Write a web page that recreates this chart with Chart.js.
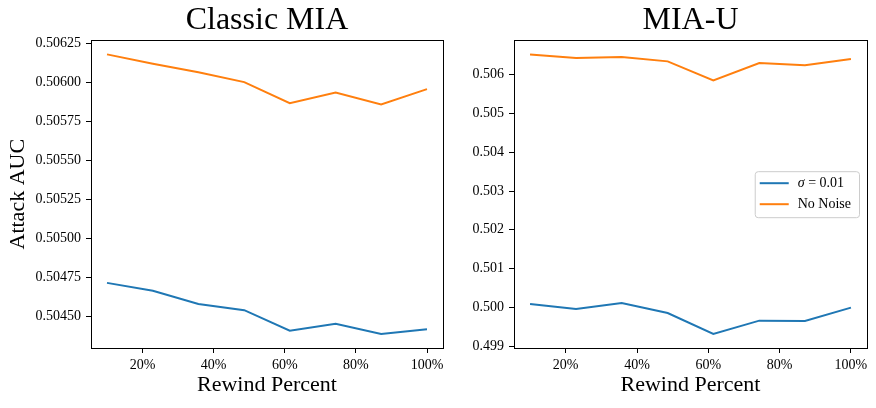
<!DOCTYPE html>
<html>
<head>
<meta charset="utf-8">
<script src="https://cdn.jsdelivr.net/npm/chart.js@4.4.1/dist/chart.umd.min.js"></script>
<style>
  body { margin: 0; background: #fff; }
  #wrap { position: relative; width: 876px; height: 408px; }
  .box { position: absolute; top: 0; height: 408px; }
</style>
</head>
<body>
<div id="wrap">
  <div class="box" style="left:0;width:450px"><canvas id="classicChart" width="450" height="408"></canvas></div>
  <div class="box" style="left:450px;width:426px"><canvas id="miauChart" width="426" height="408"></canvas></div>
</div>
<script>
var rewindPercent = [10, 22.9, 35.7, 48.6, 61.4, 74.3, 87.1, 100];
var seriesLabels = ['σ = 0.01', 'No Noise'];

var classicNoise = [0.504715, 0.504664, 0.504579, 0.50454, 0.504408, 0.504453, 0.504387, 0.504417];
var classicNoNoise = [0.50618, 0.50612, 0.506066, 0.506002, 0.505867, 0.505936, 0.505859, 0.505957];

var miauNoise = [0.500085, 0.499956, 0.500111, 0.499853, 0.499312, 0.499657, 0.499647, 0.499992];
var miauNoNoise = [0.506523, 0.506428, 0.506454, 0.506343, 0.505853, 0.506299, 0.50624, 0.506402];

var xTicks = [20, 40, 60, 80, 100];
var classicTicks = [0.5045, 0.50475, 0.505, 0.50525, 0.5055, 0.50575, 0.506, 0.50625];
var miauTicks = [0.499, 0.5, 0.501, 0.502, 0.503, 0.504, 0.505, 0.506];

var blue = '#1f77b4';
var orange = '#ff7f0e';
var serif = "'Liberation Serif', 'DejaVu Serif', serif";

Chart.defaults.font.family = serif;
Chart.defaults.color = '#000';

// matplotlib style axis frame (all four spines)
const framePlugin = {
  id: 'frame',
  afterDatasetsDraw(chart) {
    const a = chart.chartArea;
    const ctx = chart.ctx;
    ctx.save();
    ctx.strokeStyle = '#000';
    ctx.lineWidth = 1;
    ctx.strokeRect(Math.round(a.left) + 0.5, Math.round(a.top) + 0.5,
      Math.round(a.right - a.left), Math.round(a.bottom - a.top));
    ctx.restore();
  }
};

// legend box placed center right inside the axes
const boxLegend = {
  id: 'boxLegend',
  afterDraw(chart) {
    const ctx = chart.ctx;
    const a = chart.chartArea;
    const sets = chart.data.datasets;
    const fs = 14;
    const pad = 5, handle = 29, gap = 9, rowH = 21;
    ctx.save();
    ctx.font = fs + 'px ' + serif;
    let maxW = 0;
    sets.forEach(function(d) { maxW = Math.max(maxW, ctx.measureText(d.label).width); });
    const w = pad + handle + gap + maxW + pad + 3;
    const h = rowH * sets.length + 4;
    const x = a.right - 8 - w;
    const y = (a.top + a.bottom) / 2 - h / 2;
    ctx.fillStyle = 'rgba(255,255,255,0.8)';
    ctx.strokeStyle = '#cccccc';
    ctx.lineWidth = 1;
    ctx.beginPath();
    ctx.roundRect(x + 0.5, y + 0.5, w, h, 3);
    ctx.fill();
    ctx.stroke();
    sets.forEach(function(d, i) {
      const cy = y + 12 + i * rowH;
      ctx.strokeStyle = d.borderColor;
      ctx.lineWidth = 2;
      ctx.beginPath();
      ctx.moveTo(x + pad, cy);
      ctx.lineTo(x + pad + handle, cy);
      ctx.stroke();
      ctx.fillStyle = '#000';
      ctx.textBaseline = 'middle';
      let tx = x + pad + handle + gap;
      let txt = d.label;
      if (txt.charAt(0) === 'σ') {
        ctx.font = 'italic ' + fs + 'px ' + serif;
        ctx.fillText('σ', tx, cy);
        tx += ctx.measureText('σ').width;
        txt = txt.slice(1);
        ctx.font = fs + 'px ' + serif;
      }
      ctx.fillText(txt, tx, cy);
    });
    ctx.restore();
  }
};

function axisRange(arrs) {
  var all = [].concat.apply([], arrs);
  var lo = Math.min.apply(null, all), hi = Math.max.apply(null, all);
  var m = (hi - lo) * 0.05;
  return [lo - m, hi + m];
}

function makeConfig(title, noise, noNoise, yTicks, decimals, yWidth, rightPad, yTitle, withLegend) {
  var range = axisRange([noise, noNoise]);
  return {
    type: 'line',
    data: {
      datasets: [{
        label: seriesLabels[0],
        data: rewindPercent.map(function(x, i) { return { x: x, y: noise[i] }; }),
        borderColor: blue,
        backgroundColor: blue,
        borderWidth: 2,
        pointRadius: 0,
        tension: 0
      },
      {
        label: seriesLabels[1],
        data: rewindPercent.map(function(x, i) { return { x: x, y: noNoise[i] }; }),
        borderColor: orange,
        backgroundColor: orange,
        borderWidth: 2,
        pointRadius: 0,
        tension: 0
      }]
    },
    options: {
      responsive: false,
      animation: false,
      layout: { padding: { left: 0, right: rightPad, top: 0, bottom: 0 } },
      plugins: {
        legend: { display: false },
        tooltip: { enabled: false },
        title: {
          display: true,
          text: title,
          fullSize: false,
          color: '#000',
          font: { size: 32, weight: 'normal' },
          padding: { top: 1, bottom: 1 }
        }
      },
      scales: {
        x: {
          type: 'linear',
          min: 5.5,
          max: 104.5,
          border: { display: false },
          grid: { drawOnChartArea: false, drawTicks: true, tickLength: 5, color: '#000' },
          afterBuildTicks: function(s) { s.ticks = xTicks.map(function(v) { return { value: v }; }); },
          afterFit: function(s) { s.height = 60; },
          ticks: {
            padding: 4,
            maxRotation: 0,
            font: { size: 14 },
            color: '#000',
            callback: function(v) { return v + '%'; }
          },
          title: {
            display: true,
            text: 'Rewind Percent',
            color: '#000',
            font: { size: 22 },
            padding: { top: 0, bottom: 10 }
          }
        },
        y: {
          type: 'linear',
          min: range[0],
          max: range[1],
          border: { display: false },
          grid: { drawOnChartArea: false, drawTicks: true, tickLength: 5, color: '#000' },
          afterBuildTicks: function(s) { s.ticks = yTicks.map(function(v) { return { value: v }; }); },
          afterFit: function(s) { s.width = yWidth; },
          ticks: {
            padding: 5,
            font: { size: 14 },
            color: '#000',
            callback: function(v) { return Number(v).toFixed(decimals); }
          },
          title: {
            display: yTitle !== '',
            text: yTitle,
            color: '#000',
            font: { size: 22 },
            padding: { top: 5, bottom: 0 }
          }
        }
      }
    },
    plugins: withLegend ? [framePlugin, boxLegend] : [framePlugin]
  };
}

var ctxClassic = document.getElementById('classicChart').getContext('2d');
var ctxMiau = document.getElementById('miauChart').getContext('2d');
var classicChart = new Chart(ctxClassic, makeConfig('Classic MIA', classicNoise, classicNoNoise, classicTicks, 5, 91, 7, 'Attack AUC', false));
var miauChart = new Chart(ctxMiau, makeConfig('MIA-U', miauNoise, miauNoNoise, miauTicks, 3, 64, 9, '', true));
</script>
</body>
</html>
